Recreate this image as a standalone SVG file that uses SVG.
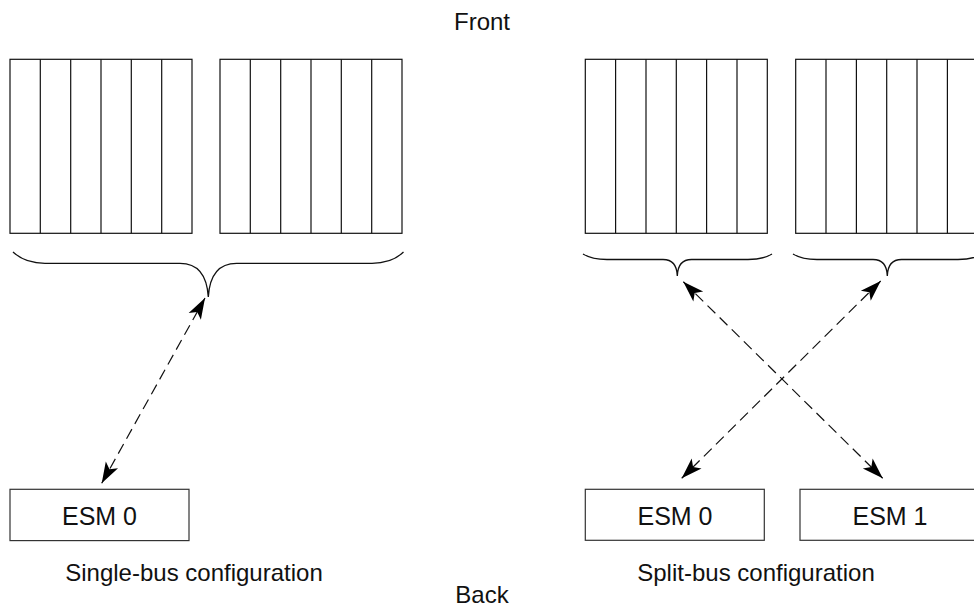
<svg xmlns="http://www.w3.org/2000/svg" width="974" height="609" viewBox="0 0 974 609">
<style>
.rack{fill:none;stroke:#111;stroke-width:1.2}
.box{fill:#fff;stroke:#333;stroke-width:1.2}
.brace{fill:none;stroke:#111;stroke-width:1.3}
.conn{fill:none;stroke:#111;stroke-width:1.2;stroke-dasharray:11 6}
text{font-family:"Liberation Sans",Arial,Helvetica,sans-serif;font-size:24px;fill:#111;text-anchor:middle}
.big{font-size:25px}
</style>
<defs>
<marker id="ah" markerUnits="userSpaceOnUse" markerWidth="24" markerHeight="16" refX="21" refY="7" orient="auto-start-reverse" viewBox="0 0 24 16" overflow="visible">
<path d="M21,7 L0,0 L5,7 L0,14 Z" fill="#000" stroke="none"/>
</marker>
</defs>
<rect width="974" height="609" fill="#fff"/>
<text x="482" y="30">Front</text>
<text x="482" y="603">Back</text>

<g id="rack-single-left">
<rect class="rack" x="10" y="59.3" width="182" height="174"/>
<path class="rack" d="M40.3,59.3V233.3M70.7,59.3V233.3M101,59.3V233.3M131.3,59.3V233.3M161.7,59.3V233.3"/>
</g>
<g id="rack-single-right">
<rect class="rack" x="220" y="59.3" width="182" height="174"/>
<path class="rack" d="M250.3,59.3V233.3M280.7,59.3V233.3M311,59.3V233.3M341.3,59.3V233.3M371.7,59.3V233.3"/>
</g>
<g id="rack-split-left">
<rect class="rack" x="585.3" y="59.3" width="182" height="174"/>
<path class="rack" d="M615.6,59.3V233.3M646,59.3V233.3M676.3,59.3V233.3M706.6,59.3V233.3M737,59.3V233.3"/>
</g>
<g id="rack-split-right">
<rect class="rack" x="795.7" y="59.3" width="182" height="174"/>
<path class="rack" d="M826,59.3V233.3M856.4,59.3V233.3M886.7,59.3V233.3M917,59.3V233.3M947.4,59.3V233.3"/>
</g>

<g id="braces">
<path class="brace" d="M13,252 Q25,263.3 45,263.3 L180,263.3 C198,263.3 207,275 208.3,297 C209.6,275 218.6,263.3 236.6,263.3 L372,263.3 Q392,263.3 403.5,252"/>
<path class="brace" d="M583,254 Q592,259.5 607,259.5 L663,259.5 C672,259.5 677,265 677.3,276 C677.6,265 682.6,259.5 691.6,259.5 L748,259.5 Q763,259.5 772,254"/>
<path class="brace" d="M793,254 Q802,259.5 817,259.5 L873,259.5 C882,259.5 887,265 887.3,276 C887.6,265 892.6,259.5 901.6,259.5 L958,259.5 Q973,259.5 982,254"/>
</g>

<g id="esm0-single">
<rect class="box" x="10" y="489.3" width="179" height="51.3"/>
<text class="big" x="99.5" y="524.5">ESM 0</text>
</g>
<g id="esm0-split">
<rect class="box" x="585.3" y="489.3" width="179" height="51"/>
<text class="big" x="675" y="524.5">ESM 0</text>
</g>
<g id="esm1-split">
<rect class="box" x="800" y="489.3" width="179" height="51"/>
<text class="big" x="890" y="524.5">ESM 1</text>
</g>

<text x="194" y="581">Single-bus configuration</text>
<text x="756" y="581">Split-bus configuration</text>

<g id="connectors">
<line class="conn" x1="101.7" y1="483.3" x2="205" y2="298" marker-start="url(#ah)" marker-end="url(#ah)"/>
<line class="conn" x1="683.3" y1="281.7" x2="882.7" y2="478.3" marker-start="url(#ah)" marker-end="url(#ah)"/>
<line class="conn" x1="880.7" y1="281" x2="681.7" y2="478.3" marker-start="url(#ah)" marker-end="url(#ah)"/>
</g>
</svg>
